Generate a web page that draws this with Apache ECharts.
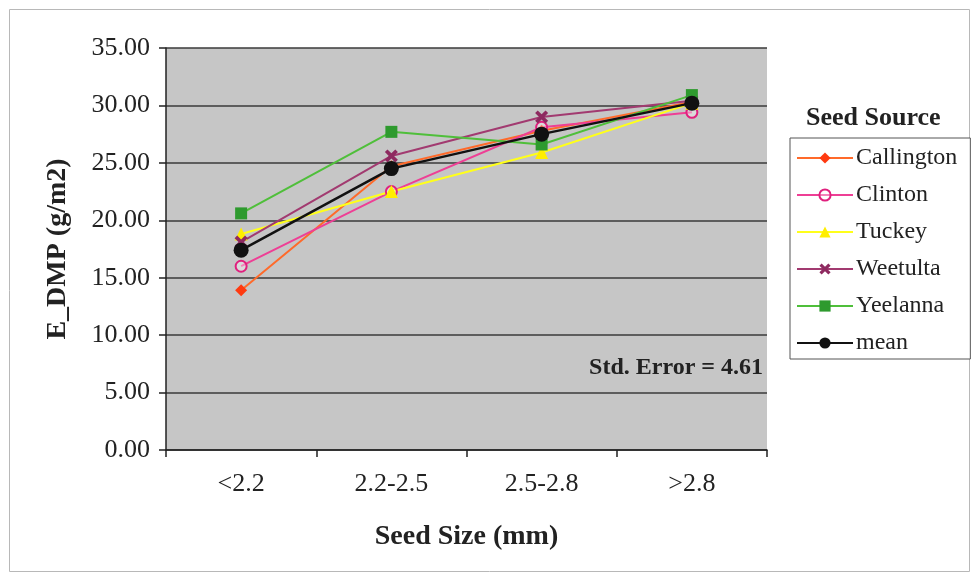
<!DOCTYPE html>
<html>
<head>
<meta charset="utf-8">
<script src="https://cdn.jsdelivr.net/npm/echarts@6/dist/echarts.min.js"></script>
<style>
  html, body { margin: 0; padding: 0; background: #ffffff; }
  #chart { width: 974px; height: 580px; }
</style>
</head>
<body>
<div id="chart"></div>
<script>
// Seed size classes (mm)
const categories = ['<2.2', '2.2-2.5', '2.5-2.8', '>2.8'];

// E_DMP (g/m2) by seed source
const callington = [13.9, 24.7, 27.8, 30.3];
const clinton    = [16.0, 22.5, 28.1, 29.4];
const tuckey     = [18.8, 22.5, 25.9, 30.2];
const weetulta   = [18.1, 25.6, 29.0, 30.4];
const yeelanna   = [20.6, 27.7, 26.6, 30.9];
const meanVals   = [17.4, 24.5, 27.5, 30.2];

const yTicks = [0, 5, 10, 15, 20, 25, 30, 35];

const serif = '"Liberation Serif", "DejaVu Serif", serif';
const crossPath = 'path://M2,0 L5,3 L8,0 L10,2 L7,5 L10,8 L8,10 L5,7 L2,10 L0,8 L3,5 L0,2 Z';

function lineSeries(name, data, lineColor, symbol, symbolSize, itemStyle, width) {
  return {
    name: name,
    type: 'line',
    data: data,
    symbol: symbol,
    symbolSize: symbolSize,
    showAllSymbol: true,
    lineStyle: { color: lineColor, width: width || 2 },
    itemStyle: itemStyle,
    emphasis: { disabled: true },
    animation: false
  };
}

const chart = echarts.init(document.getElementById('chart'), null, { renderer: 'canvas' });

chart.setOption({
  backgroundColor: '#ffffff',
  animation: false,
  grid: {
    left: 166, right: 207, top: 48, bottom: 130,
    show: true,
    backgroundColor: '#c6c6c6',
    borderWidth: 0
  },
  xAxis: {
    type: 'category',
    data: categories,
    boundaryGap: true,
    name: 'Seed Size (mm)',
    nameLocation: 'middle',
    nameGap: 73,
    nameTextStyle: { fontFamily: serif, fontSize: 28, fontWeight: 'bold', color: '#222' },
    axisLine: { show: true, lineStyle: { color: '#222', width: 1.5 } },
    axisTick: { show: true, length: 7, lineStyle: { color: '#222', width: 1.5 } },
    axisLabel: { fontFamily: serif, fontSize: 26, color: '#222', margin: 21 },
    splitLine: { show: false }
  },
  yAxis: {
    type: 'value',
    min: yTicks[0],
    max: yTicks[yTicks.length - 1],
    interval: 5,
    name: 'E_DMP (g/m2)',
    nameLocation: 'middle',
    nameGap: 94,
    nameTextStyle: { fontFamily: serif, fontSize: 28, fontWeight: 'bold', color: '#222' },
    axisLine: { show: true, lineStyle: { color: '#222', width: 1.5 } },
    axisTick: { show: true, length: 7, lineStyle: { color: '#222', width: 1.5 } },
    axisLabel: {
      fontFamily: serif, fontSize: 26, color: '#222', margin: 16,
      formatter: function (v) { return v.toFixed(2); }
    },
    splitLine: { show: true, lineStyle: { color: '#3a3a3a', width: 1.5 } }
  },
  legend: {
    orient: 'vertical',
    left: 790,
    top: 138,
    padding: [8, 13, 4, 6],
    itemGap: 13,
    itemWidth: 56,
    itemHeight: 14,
    borderColor: '#555',
    borderWidth: 1,
    backgroundColor: '#ffffff',
    textStyle: { fontFamily: serif, fontSize: 24, lineHeight: 24, color: '#222', padding: [0, 0, 0, -2] },
    data: ['Callington', 'Clinton', 'Tuckey', 'Weetulta', 'Yeelanna', 'mean']
  },
  graphic: [
    {
      type: 'rect',
      silent: true,
      shape: { x: 9.5, y: 9.5, width: 960, height: 562 },
      style: { fill: 'none', stroke: '#b8b8b8', lineWidth: 1 }
    },
    {
      type: 'text',
      left: 806, top: 105,
      style: { text: 'Seed Source', font: 'bold 26px ' + serif, fill: '#222' }
    },
    {
      type: 'text',
      right: 211, top: 356,
      style: { text: 'Std. Error = 4.61', font: 'bold 24px ' + serif, fill: '#222' }
    }
  ],
  series: [
    lineSeries('Callington', callington, '#ff6a2a', 'diamond', 12, { color: '#ff3a10' }),
    lineSeries('Clinton', clinton, '#ee3f95', 'circle', 11,
      { color: 'rgba(255,255,255,0.35)', borderColor: '#e0207e', borderWidth: 2 }),
    lineSeries('Tuckey', tuckey, '#ffff1a', 'triangle', 13, { color: '#ffee00' }),
    lineSeries('Weetulta', weetulta, '#a23a70', crossPath, 13, { color: '#8e2a60' }),
    lineSeries('Yeelanna', yeelanna, '#4fbf3a', 'rect', 12, { color: '#2e9a2e' }),
    lineSeries('mean', meanVals, '#111111', 'circle', 15, { color: '#111111' }, 2.5)
  ]
});
</script>
</body>
</html>
